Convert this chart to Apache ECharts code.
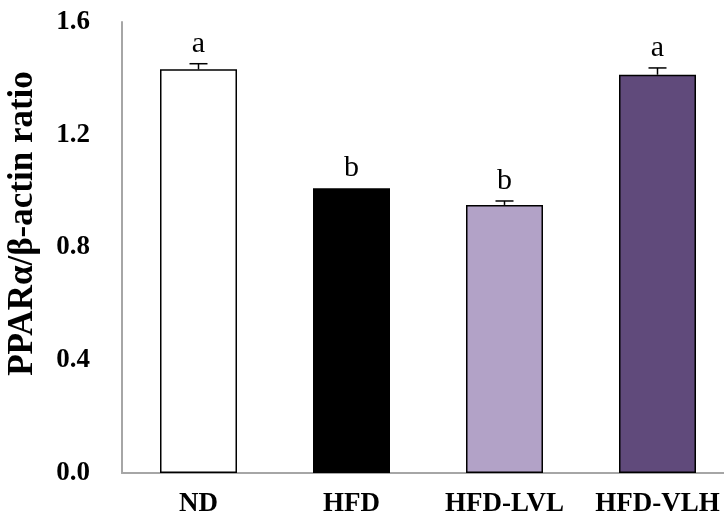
<!DOCTYPE html>
<html>
<head>
<meta charset="utf-8">
<script src="https://cdn.jsdelivr.net/npm/echarts@6/dist/echarts.min.js"></script>
<style>
html,body{margin:0;padding:0;background:#fff;}
#chart{width:724px;height:523px;}
</style>
</head>
<body>
<div id="chart"></div>
<script>
const categories = ['ND', 'HFD', 'HFD-LVL', 'HFD-VLH'];
const means = [1.432, 1.01, 0.951, 1.413];
const errors = [0.02, 0, 0.014, 0.024];
const sigLetters = ['a', 'b', 'b', 'a'];
const barColors = ['#ffffff', '#000000', '#b2a2c7', '#604a7b'];
const yTicks = [0, 0.4, 0.8, 1.2, 1.6];
const yTitle = 'PPARα/β-actin ratio';

const serif = "'Liberation Serif', 'Times New Roman', serif";
const axisGray = '#a6a6a6';

const chart = echarts.init(document.getElementById('chart'), null, {renderer: 'canvas'});

const errData = categories.map((c, i) => [i, means[i], errors[i], sigLetters[i]]);

chart.setOption({
  animation: false,
  backgroundColor: '#ffffff',
  grid: {left: 122, top: 22, bottom: 50, width: 612, containLabel: false, outerBoundsMode: 'none'},
  xAxis: {
    type: 'category',
    data: categories,
    axisTick: {show: false},
    axisLine: {show: true, lineStyle: {color: axisGray, width: 2}},
    axisLabel: {
      color: '#000', fontFamily: serif, fontWeight: 'bold', fontSize: 27, margin: 18, interval: 0
    }
  },
  yAxis: {
    type: 'value',
    min: yTicks[0],
    max: yTicks[yTicks.length - 1],
    interval: 0.4,
    splitLine: {show: false},
    axisTick: {show: false},
    axisLine: {show: true, lineStyle: {color: axisGray, width: 2}},
    axisLabel: {
      color: '#000', fontFamily: serif, fontWeight: 'bold', fontSize: 27, margin: 32,
      formatter: v => v.toFixed(1)
    },
    name: yTitle,
    nameLocation: 'middle',
    nameRotate: 90,
    nameGap: 82,
    nameTextStyle: {
      color: '#000', fontFamily: serif, fontWeight: 'bold', fontSize: 35,
      padding: [0, 0, 0, 48]
    }
  },
  series: [
    {
      type: 'bar',
      barWidth: 77,
      data: means.map((v, i) => ({
        value: v,
        itemStyle: {color: barColors[i], borderColor: '#000', borderWidth: 1.5}
      })),
      z: 2
    },
    {
      type: 'custom',
      z: 5,
      data: errData,
      renderItem: function (params, api) {
        const idx = api.value(0);
        const m = api.value(1);
        const e = api.value(2);
        const letter = sigLetters[params.dataIndex];
        const base = api.coord([idx, m]);
        const top = api.coord([idx, m + e]);
        const children = [];
        if (e > 0) {
          children.push({
            type: 'line',
            shape: {x1: base[0], y1: base[1], x2: top[0], y2: top[1]},
            style: {stroke: '#000', lineWidth: 1.5}
          });
          children.push({
            type: 'line',
            shape: {x1: top[0] - 9, y1: top[1], x2: top[0] + 9, y2: top[1]},
            style: {stroke: '#000', lineWidth: 1.5}
          });
        }
        children.push({
          type: 'text',
          style: {
            text: letter,
            x: top[0],
            y: top[1] - 5,
            align: 'center',
            verticalAlign: 'bottom',
            fill: '#000',
            font: "30px 'Liberation Serif', serif"
          }
        });
        return {type: 'group', children: children};
      }
    }
  ]
});
</script>
</body>
</html>
